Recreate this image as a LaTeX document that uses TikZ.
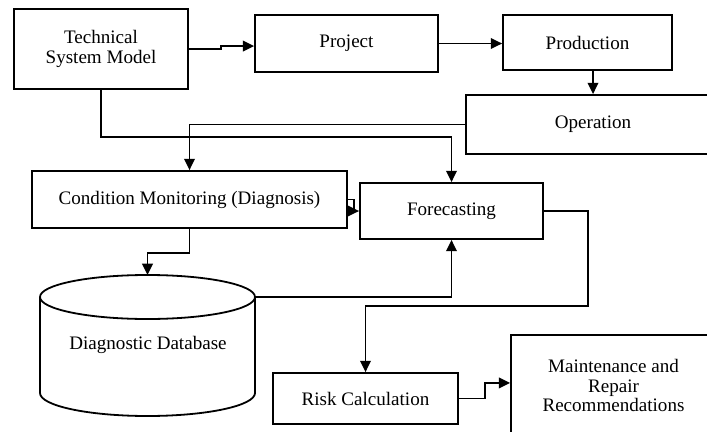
\documentclass[tikz,border=0pt]{standalone}
\usepackage{fontspec}
\setmainfont{Liberation Serif}
\usetikzlibrary{arrows.meta}
\begin{document}
\begin{tikzpicture}[x=0.75pt,y=-0.75pt,
  ln/.style={line width=1.35pt},
  box/.style={draw, ln, inner sep=0pt, align=center,
    font=\fontsize{14.3}{14.8}\selectfont},
  sz/.style 2 args={minimum width=#1*0.75pt, minimum height=#2*0.75pt},
  lbl/.style={inner sep=0pt, align=center, font=\fontsize{14.3}{14.8}\selectfont},
  conn/.style={ln, -{Triangle[length=8.5pt,width=8pt]}}]
\clip (0,0) rectangle (707,432);
\fill[white] (0,0) rectangle (707,432);
% boxes
\node[box, sz={174}{80}] (tsm) at (101,49) {Technical\\System Model};
\node[box, sz={183}{57}] (proj) at (346.5,43.5) {Project};
\node[box, sz={169}{55}] (prod) at (587.5,42.5) {Production};
\node[box, sz={254}{59}] (oper) at (593,124.5) {Operation};
\node[box, sz={315}{57}] (cm) at (189.5,199.5) {Condition Monitoring (Diagnosis)};
\node[box, sz={183}{56}] (fc) at (451.5,211) {Forecasting};
\node[box, sz={185}{51}] (risk) at (365.5,398.5) {Risk Calculation};
\node[box, sz={205}{101}] (mrr) at (613.5,385.5) {Maintenance and\\Repair\\Recommendations};
% cylinder
\draw[ln, fill=white] (40,297) -- (40,393)
  arc[start angle=180,end angle=360,x radius=80.625pt,y radius=17.25pt] -- (255,297);
\draw[ln, fill=white] (147.5,297) ellipse [x radius=80.625pt, y radius=16.5pt];
\node[lbl] (db) at (148,345) {Diagnostic Database};
\coordinate (dbtop) at (147.5,275);
\coordinate (dbright) at (255,297);
% connectors
\draw[conn] (tsm.east) -- ++(32,0) |- ([yshift=-1.9pt]proj.west);
\draw[conn] (proj.east) -- (proj.east -| prod.west);
\draw[conn] (oper.north |- prod.south) -- (oper.north);
\draw[conn] (oper.west) -| (cm.north);
\draw[conn] (tsm.south) -- ++(0,47) -| (fc.north);
\draw[conn] (cm.east) -- ++(6,0) |- (fc.west);
\draw[conn] (cm.south) -- ++(0,24) -| (dbtop);
\draw[conn] (dbright) -| (fc.south);
\draw[conn] (fc.east) -- ++(44,0) -- ++(0,95) -| (risk.north);
\draw[conn] (risk.east) -- ++(26,0) |- ([yshift=1.9pt]mrr.west);
\end{tikzpicture}
\end{document}
